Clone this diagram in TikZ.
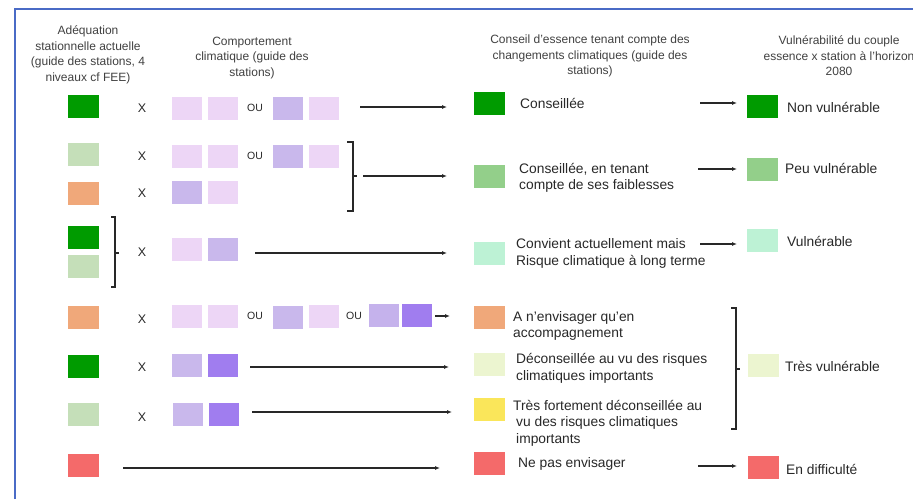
\documentclass[tikz,border=0pt]{standalone}
\usepackage{fontspec}
\setmainfont{Liberation Sans}
\usetikzlibrary{arrows.meta}
\definecolor{dgreen}{RGB}{0,155,0}
\definecolor{lgreen}{RGB}{197,223,185}
\definecolor{orng}{RGB}{240,168,122}
\definecolor{redc}{RGB}{244,106,106}
\definecolor{mgreen}{RGB}{147,207,138}
\definecolor{mint}{RGB}{189,242,213}
\definecolor{pale}{RGB}{236,245,208}
\definecolor{yell}{RGB}{250,230,90}
\definecolor{pinkc}{RGB}{237,214,246}
\definecolor{lilac}{RGB}{201,184,236}
\definecolor{violetc}{RGB}{160,125,239}
\definecolor{framec}{RGB}{74,107,198}
\definecolor{txt}{RGB}{40,40,40}
\definecolor{hdr}{RGB}{65,65,65}
\begin{document}
\begin{tikzpicture}[x=1pt,y=-1pt,
  sq/.style={minimum width=31pt,minimum height=23pt,inner sep=0pt,outer sep=0pt},
  psq/.style={minimum width=30pt,minimum height=23pt,inner sep=0pt,outer sep=0pt},
  hd/.style={align=center,text=hdr,font=\fontsize{12}{15.5}\selectfont,inner sep=0pt},
  lbl/.style={anchor=west,align=left,text=txt,font=\fontsize{13.8}{16.5}\selectfont,inner sep=0pt},
  xm/.style={text=txt,font=\fontsize{12.5}{14}\selectfont,inner sep=0pt},
  ou/.style={text=txt,font=\fontsize{10.5}{12}\selectfont,inner sep=0pt},
  arr/.style={draw=txt,line width=1.1pt,-{Latex[length=5pt,width=4pt]}},
  brk/.style={draw=txt,line width=1.1pt},
  frm/.style={draw=framec,line width=1.4pt}]
\useasboundingbox (0,0) rectangle (913,499);
\fill[white] (0,0) rectangle (913,499);
\draw[frm] (15,499) -- (15,9) -- (913,9);
\begin{scope}
\clip (0,0) rectangle (913,499);
% headers
\node[hd] (h1) at (88,55) {Adéquation\\stationnelle actuelle\\(guide des stations, 4\\niveaux cf FEE)};
\node[hd] (h2) at (252,58) {Comportement\\climatique (guide des\\stations)};
\node[hd] (h3) at (590,56) {Conseil d'essence tenant compte des\\changements climatiques (guide des\\stations)};
\node[hd] (h4) at (839,56) {Vulnérabilité du couple\\essence x station à l'horizon\\2080};
\end{scope}
% left column squares
\node[sq,fill=dgreen] (l1) at (83,106) {};
\node[sq,fill=lgreen] (l2) at (83,154.5) {};
\node[sq,fill=orng] (l3) at (83,193.5) {};
\node[sq,fill=dgreen] (l4a) at (83,237.5) {};
\node[sq,fill=lgreen] (l4b) at (83,266.5) {};
\node[sq,fill=orng] (l5) at (83,317) {};
\node[sq,fill=dgreen] (l6) at (83,366.5) {};
\node[sq,fill=lgreen] (l7) at (83,414) {};
\node[sq,fill=redc] (l8) at (83,465) {};
% X marks
\node[xm] (x1) at (142,108) {X};
\node[xm] (x2) at (142,156) {X};
\node[xm] (x3) at (142,193) {X};
\node[xm] (x4) at (142,252) {X};
\node[xm] (x5) at (142,319) {X};
\node[xm] (x6) at (142,367) {X};
\node[xm] (x7) at (142,417) {X};
% row 1
\node[psq,fill=pinkc] (p11) at (187,108.5) {};
\node[psq,fill=pinkc] (p12) at (223,108.5) {};
\node[ou] (o11) at (255,108) {OU};
\node[psq,fill=lilac] (p13) at (288,108.5) {};
\node[psq,fill=pinkc] (p14) at (324,108.5) {};
% row 2
\node[psq,fill=pinkc] (p21) at (187,156.5) {};
\node[psq,fill=pinkc] (p22) at (223,156.5) {};
\node[ou] (o21) at (255,156) {OU};
\node[psq,fill=lilac] (p23) at (288,156.5) {};
\node[psq,fill=pinkc] (p24) at (324,156.5) {};
% row 3
\node[psq,fill=lilac] (p31) at (187,192) {};
\node[psq,fill=pinkc] (p32) at (223,192) {};
% row 4
\node[psq,fill=pinkc] (p41) at (187,249.5) {};
\node[psq,fill=lilac] (p42) at (223,249.5) {};
% row 5
\node[psq,fill=pinkc] (p51) at (187,316) {};
\node[psq,fill=pinkc] (p52) at (223,316) {};
\node[ou] (o51) at (255,316) {OU};
\node[psq,fill=lilac] (p53) at (288,317) {};
\node[psq,fill=pinkc] (p54) at (324,316) {};
\node[ou] (o52) at (354,316) {OU};
\node[psq,fill=lilac!90!violetc] (p55) at (384,315) {};
\node[psq,fill=violetc] (p56) at (417,315) {};
% row 6
\node[psq,fill=lilac] (p61) at (187,365) {};
\node[psq,fill=violetc] (p62) at (223,365) {};
% row 7
\node[psq,fill=lilac] (p71) at (188,414) {};
\node[psq,fill=violetc] (p72) at (224,414) {};
% brackets
\draw[brk] (347,142) -- (353,142) -- (353,211) -- (347,211);
\draw[brk] (353,176) -- (357,176);
\draw[brk] (111,217) -- (115,217) -- (115,287) -- (111,287);
\draw[brk] (115,253) -- (119,253);
\draw[brk] (731,308) -- (736,308) -- (736,429) -- (731,429);
\draw[brk] (736,369) -- (740,369);
% result squares and labels
\node[sq,fill=dgreen] (r1) at (489,103.5) {};
\node[sq,fill=mgreen] (r2) at (489,176.5) {};
\node[sq,fill=mint] (r4) at (489,253.5) {};
\node[sq,fill=orng] (r5) at (489,317.5) {};
\node[sq,fill=pale] (r6) at (489,364.5) {};
\node[sq,fill=yell] (r7) at (489,409.5) {};
\node[sq,fill=redc] (r8) at (489,463.5) {};
\node[lbl] (t1) at (520,103) {Conseillée};
\node[lbl] (t2) at (519,178) {Conseillée, en tenant\\compte de ses faiblesses};
\node[lbl] (t4) at (516,253.5) {Convient actuellement mais\\Risque climatique à long terme};
\node[lbl] (t5) at (513,326) {A n'envisager qu'en\\accompagnement};
\node[lbl] (t6) at (516,368.5) {Déconseillée au vu des risques\\climatiques importants};
\node[lbl] (t7) at (513,423) {Très fortement déconseillée au\\\hspace*{3pt}vu des risques climatiques\\\hspace*{3pt}importants};
\node[lbl] (t8) at (518,464) {Ne pas envisager};
% vulnerability squares and labels
\node[sq,fill=dgreen] (v1) at (762,106.5) {};
\node[sq,fill=mgreen] (v2) at (762,169) {};
\node[sq,fill=mint] (v4) at (762,240.5) {};
\node[sq,fill=pale] (v6) at (763,365) {};
\node[sq,fill=redc] (v8) at (763,467.5) {};
\node[lbl] (u1) at (787,107) {Non vulnérable};
\node[lbl] (u2) at (785,168) {Peu vulnérable};
\node[lbl] (u4) at (787,241) {Vulnérable};
\node[lbl] (u6) at (785,366) {Très vulnérable};
\node[lbl] (u8) at (786,469) {En difficulté};
% arrow end points
\coordinate (a1s) at (360,107); \coordinate (a1e) at (447,107);
\coordinate (a2s) at (363,176); \coordinate (a2e) at (447,176);
\coordinate (a4s) at (255,253); \coordinate (a4e) at (447,253);
\coordinate (a5s) at (435,316); \coordinate (a5e) at (450,316);
\coordinate (a6s) at (250,367); \coordinate (a6e) at (449,367);
\coordinate (a7s) at (252,412); \coordinate (a7e) at (452,412);
\coordinate (a8s) at (123,468); \coordinate (a8e) at (440,468);
\coordinate (b1s) at (700,103); \coordinate (b1e) at (737,103);
\coordinate (b2s) at (698,169); \coordinate (b2e) at (737,169);
\coordinate (b4s) at (700,244); \coordinate (b4e) at (737,244);
\coordinate (b8s) at (698,466); \coordinate (b8e) at (737,466);
\foreach \s/\e in {a1s/a1e,a2s/a2e,a4s/a4e,a5s/a5e,a6s/a6e,a7s/a7e,a8s/a8e,b1s/b1e,b2s/b2e,b4s/b4e,b8s/b8e}
  \draw[arr] (\s) -- (\e);
\end{tikzpicture}
\end{document}
